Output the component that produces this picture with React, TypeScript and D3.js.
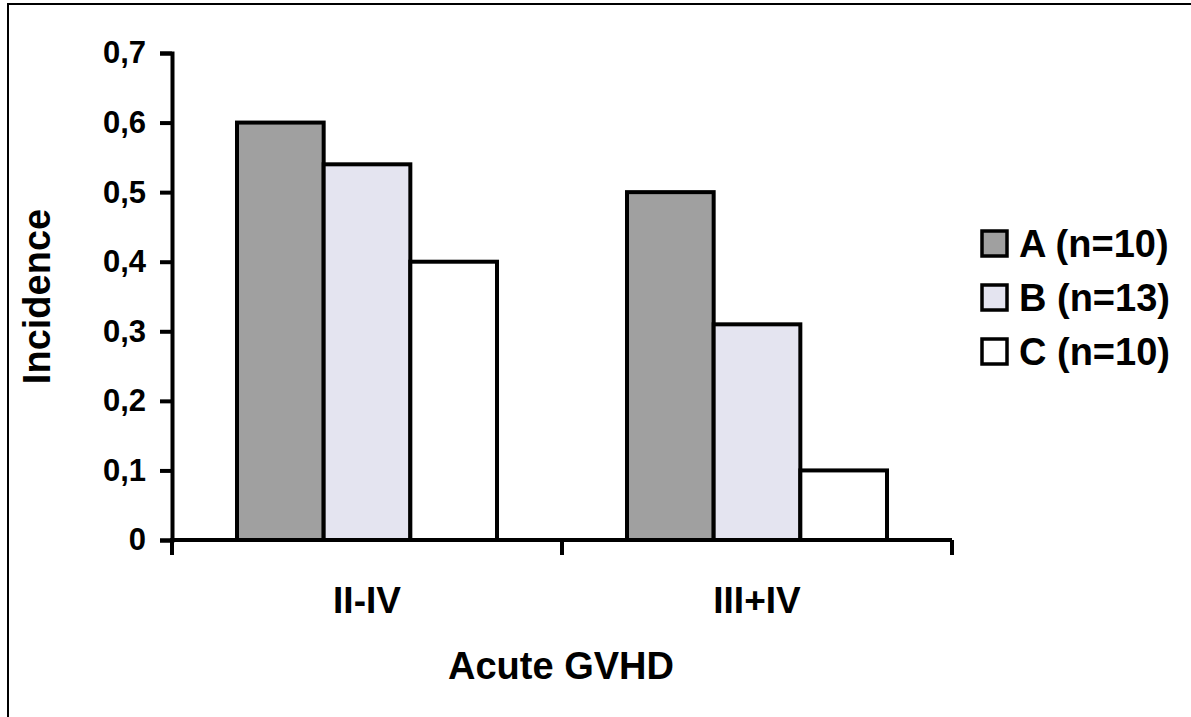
import React, { useEffect, useRef } from 'react'
import { axisLeft, scaleBand, scaleLinear, select } from 'd3'

// Data
const categories = ['II-IV', 'III+IV']
const seriesNames = ['A (n=10)', 'B (n=13)', 'C (n=10)']
const seriesA = [0.6, 0.5]
const seriesB = [0.54, 0.31]
const seriesC = [0.4, 0.1]
const yTicks = [0, 0.1, 0.2, 0.3, 0.4, 0.5, 0.6, 0.7]
const colors = ['#a0a0a0', '#e4e4f0', '#ffffff']

const W = 1191
const H = 717
const FONT = '"Liberation Sans", Arial, sans-serif'

const App = () => {
    const svgRef = useRef<SVGSVGElement>(null)

    useEffect(() => {
        const svg = select(svgRef.current)
        svg.selectAll('*').remove()

        const values = [seriesA, seriesB, seriesC]

        const x0 = scaleBand<string>().domain(categories).range([172, 952])
        const x1 = scaleBand<string>()
            .domain(seriesNames)
            .range([0, x0.bandwidth()])
            .paddingInner(0)
            .paddingOuter(0.75)
        const y = scaleLinear().domain([0, 0.7]).range([540, 53])

        // marco
        svg.append('rect')
            .attr('x', 8).attr('y', 4)
            .attr('width', W + 20).attr('height', H + 20)
            .attr('fill', 'none').attr('stroke', '#000').attr('stroke-width', 2)

        // barras
        const groups = svg.selectAll('.grupo')
            .data(categories)
            .join('g')
            .attr('class', 'grupo')
            .attr('transform', c => `translate(${x0(c)},0)`)

        groups.selectAll('rect')
            .data((c, ci) => seriesNames.map((s, si) => ({ s, si, v: values[si][ci] })))
            .join('rect')
            .attr('x', d => x1(d.s)!)
            .attr('y', d => y(d.v))
            .attr('width', x1.bandwidth())
            .attr('height', d => y(0) - y(d.v))
            .attr('fill', d => colors[d.si])
            .attr('stroke', '#000')
            .attr('stroke-width', 4)

        // eje y
        const yAxis = axisLeft(y)
            .tickValues(yTicks)
            .tickSize(12)
            .tickPadding(14)
            .tickFormat(d => String(+d).replace('.', ','))

        const gy = svg.append('g')
            .attr('transform', 'translate(172,0)')
            .call(yAxis)
        gy.select('.domain').attr('stroke-width', 4).attr('stroke', '#000')
        gy.selectAll('.tick line').attr('stroke-width', 4).attr('stroke', '#000')
        gy.selectAll('.tick text')
            .attr('font-family', FONT)
            .attr('font-weight', 'bold')
            .attr('font-size', 31)
            .attr('fill', '#000')

        // eje x
        const [xa, xb] = x0.range()
        svg.append('line')
            .attr('x1', xa - 2).attr('x2', xb)
            .attr('y1', y(0)).attr('y2', y(0))
            .attr('stroke', '#000').attr('stroke-width', 4)

        const bounds = [...categories.map(c => x0(c)!), xb]
        svg.selectAll('.xtick')
            .data(bounds)
            .join('line')
            .attr('class', 'xtick')
            .attr('x1', d => d).attr('x2', d => d)
            .attr('y1', y(0)).attr('y2', y(0) + 15)
            .attr('stroke', '#000').attr('stroke-width', 4)

        svg.selectAll('.xlabel')
            .data(categories)
            .join('text')
            .attr('class', 'xlabel')
            .attr('x', c => x0(c)! + x0.bandwidth() / 2)
            .attr('y', y(0) + 73)
            .attr('text-anchor', 'middle')
            .attr('font-family', FONT)
            .attr('font-weight', 'bold')
            .attr('font-size', 37)
            .text(c => c)

        // titulos
        svg.append('text')
            .attr('x', 561)
            .attr('y', 679)
            .attr('text-anchor', 'middle')
            .attr('font-family', FONT)
            .attr('font-weight', 'bold')
            .attr('font-size', 38)
            .text('Acute GVHD')

        svg.append('text')
            .attr('transform', `translate(50,${(y(0) + y(0.7)) / 2}) rotate(-90)`)
            .attr('text-anchor', 'middle')
            .attr('font-family', FONT)
            .attr('font-weight', 'bold')
            .attr('font-size', 38)
            .text('Incidence')

        // leyenda
        const legend = svg.selectAll('.leyenda')
            .data(seriesNames)
            .join('g')
            .attr('class', 'leyenda')
            .attr('transform', (d, i) => `translate(982,${231 + i * 54})`)

        legend.append('rect')
            .attr('width', 25).attr('height', 25)
            .attr('fill', (d, i) => colors[i])
            .attr('stroke', '#000').attr('stroke-width', 3.5)

        legend.append('text')
            .attr('x', 37).attr('y', 26)
            .attr('font-family', FONT)
            .attr('font-weight', 'bold')
            .attr('font-size', 38)
            .text(d => d)
    }, [])

    return (
        <svg ref={svgRef} width={W} height={H}
            style={{ position: 'absolute', left: 0, top: 0, background: '#fff' }} />
    )
}

export default App
